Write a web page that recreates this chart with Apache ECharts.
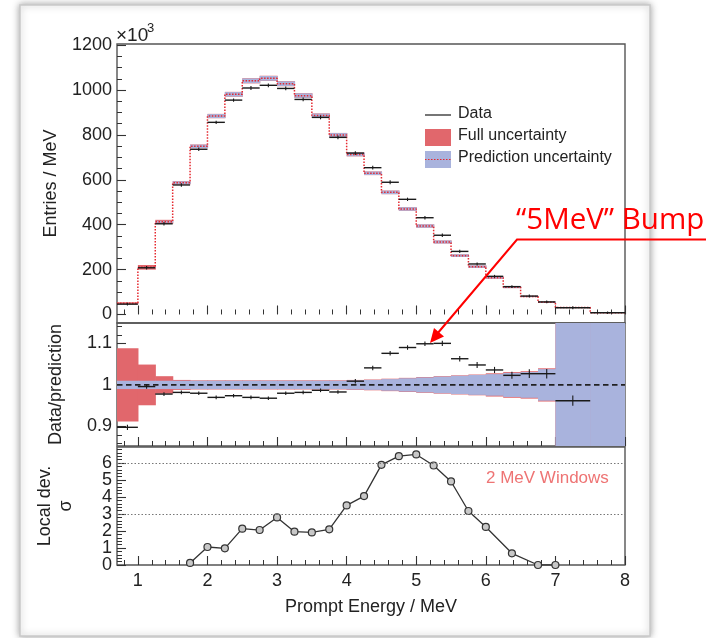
<!DOCTYPE html>
<html>
<head>
<meta charset="utf-8">
<script src="https://cdn.jsdelivr.net/npm/echarts@6/dist/echarts.min.js"></script>
<style>
  html, body { margin: 0; padding: 0; background: #ffffff; }
  #chart { width: 712px; height: 638px; }
</style>
</head>
<body>
<div id="chart"></div>
<script>
// ---- Binning (MeV) ----
const binEdges = [0.7, 1.0, 1.25, 1.5, 1.75, 2.0, 2.25, 2.5, 2.75, 3.0, 3.25, 3.5, 3.75,
  4.0, 4.25, 4.5, 4.75, 5.0, 5.25, 5.5, 5.75, 6.0, 6.25, 6.5, 6.75, 7.0, 7.5, 8.0];

// ---- Spectrum (x10^3 entries / MeV) ----
const prediction = [50, 210, 413, 587, 749, 884, 981, 1041, 1052, 1028, 975, 886, 800,
  713, 629, 544, 470, 394, 323, 262, 213, 164, 121, 80, 54, 31, 8];
const dataEntries = [46, 208, 404, 577, 736, 856, 955, 1009, 1021, 1007, 958, 878, 789,
  719, 654, 589, 513, 431, 353, 281, 225, 170, 124, 82, 56, 30, 8];
const entriesErr = [2, 3, 3, 3, 3, 3, 3, 4, 4, 4, 4, 4, 4, 4, 4, 4, 3, 3, 3, 3, 2, 2, 2, 2, 2, 2, 1];

// ---- Relative uncertainties per bin ----
const fullUnc = [0.088, 0.049, 0.021, 0.012, 0.011, 0.011, 0.011, 0.011, 0.011, 0.011, 0.011, 0.011, 0.011,
  0.012, 0.013, 0.015, 0.017, 0.019, 0.021, 0.023, 0.025, 0.028, 0.031, 0.033, 0.040, 0.044, 0.051];
const predUnc = [0.010, 0.010, 0.010, 0.010, 0.010, 0.010, 0.010, 0.010, 0.010, 0.010, 0.010, 0.010, 0.010,
  0.011, 0.012, 0.014, 0.016, 0.018, 0.020, 0.022, 0.024, 0.026, 0.029, 0.031, 0.038, 0.042, 0.050];
// prediction uncertainty unconstrained from this energy upward (ratio panel)
const openBandFrom = 7.0;

// ---- Data / prediction ----
const ratio = [0.898, 0.996, 0.978, 0.982, 0.980, 0.970, 0.974, 0.970, 0.968, 0.980, 0.982, 0.987, 0.983,
  1.009, 1.041, 1.076, 1.090, 1.099, 1.100, 1.063, 1.048, 1.036, 1.023, 1.027, 1.027, 0.962, null];
const ratioErr = [0.004, 0.003, 0.002, 0.002, 0.002, 0.002, 0.002, 0.002, 0.002, 0.002, 0.002, 0.002, 0.002,
  0.003, 0.003, 0.003, 0.003, 0.003, 0.004, 0.004, 0.005, 0.005, 0.006, 0.008, 0.009, 0.010, null];
const unityRatio = 1;

// ---- Local deviation in 2 MeV windows (sigma) ----
const windowCenter = [1.75, 2.0, 2.25, 2.5, 2.75, 3.0, 3.25, 3.5, 3.75, 4.0, 4.25, 4.5, 4.75,
  5.0, 5.25, 5.5, 5.75, 6.0, 6.375, 6.75, 7.0];
const localDev = [0.12, 1.06, 0.98, 2.14, 2.06, 2.80, 1.96, 1.92, 2.10, 3.51, 4.06, 5.90, 6.41,
  6.51, 5.86, 4.92, 3.18, 2.24, 0.69, 0, 0];
const sigmaRefLines = [3, 6];

// ---- Tick values ----
const xMajor = [1, 2, 3, 4, 5, 6, 7, 8];
const xMinor = [0.8, 1.2, 1.4, 1.6, 1.8, 2.2, 2.4, 2.6, 2.8, 3.2, 3.4, 3.6, 3.8, 4.2, 4.4, 4.6, 4.8,
  5.2, 5.4, 5.6, 5.8, 6.2, 6.4, 6.6, 6.8, 7.2, 7.4, 7.6, 7.8];
const yTopMajor = [0, 200, 400, 600, 800, 1000, 1200];
const yTopMinor = [50, 100, 150, 250, 300, 350, 450, 500, 550, 650, 700, 750, 850, 900, 950, 1050, 1100, 1150];
const yRatioMajor = [0.9, 1, 1.1];
const yRatioMinor = [0.86, 0.88, 0.92, 0.94, 0.96, 0.98, 1.02, 1.04, 1.06, 1.08, 1.12, 1.14];
const ySigmaMajor = [0, 1, 2, 3, 4, 5, 6];
const ySigmaMinor = [0.2, 0.4, 0.6, 0.8, 1.2, 1.4, 1.6, 1.8, 2.2, 2.4, 2.6, 2.8, 3.2, 3.4, 3.6, 3.8,
  4.2, 4.4, 4.6, 4.8, 5.2, 5.4, 5.6, 5.8, 6.2, 6.4, 6.6, 6.8];
// sigma labels are tightly packed: even and odd values go on two overlaid axes
const ySigmaLabelsEven = ySigmaMajor.filter(v => v % 2 === 0);
const ySigmaLabelsOdd = ySigmaMajor.filter(v => v % 2 === 1);

// ---- Styling ----
const FONT = 'Liberation Sans, Arial, sans-serif';
const TXT = '#222222';
const RED_FILL = '#e1676c';
const BLUE_FILL = '#a9b3dd';
const PRED_LINE = '#e5282f';
const MARK = '#1a1a1a';
const X_MIN = binEdges[0], X_MAX = binEdges[binEdges.length - 1];

const gridBox = { left: 117, width: 508 };
const grids = [
  Object.assign({ top: 44, height: 279 }, gridBox),
  Object.assign({ top: 323, height: 123 }, gridBox),
  Object.assign({ top: 447, height: 118 }, gridBox)
].map(g => Object.assign(g, { show: true, borderColor: '#555555', borderWidth: 1.4, backgroundColor: 'transparent' }));

const labelStyle = {
  color: TXT, fontSize: 18, fontFamily: FONT, margin: 5,
  showMinLabel: true, showMaxLabel: true, hideOverlap: false, formatter: v => String(v)
};

function xAxisFor(gridIndex, opts) {
  return Object.assign({
    type: 'value', gridIndex, min: X_MIN, max: X_MAX, position: 'bottom',
    axisLine: { show: false }, splitLine: { show: false },
    axisTick: { show: true, inside: true, length: 9, customValues: xMajor, lineStyle: { color: '#333', width: 1.1 } },
    axisLabel: { show: false }
  }, opts || {});
}
function xMinorFor(gridIndex) {
  return {
    type: 'value', gridIndex, min: X_MIN, max: X_MAX, position: 'bottom', offset: 0,
    axisLine: { show: false }, splitLine: { show: false }, axisLabel: { show: false },
    axisTick: { show: true, inside: true, length: 5, customValues: xMinor, lineStyle: { color: '#333', width: 1 } }
  };
}
function yAxisFor(gridIndex, min, max, major, labels, name, nameGap) {
  return {
    type: 'value', gridIndex, min, max, position: 'left',
    axisLine: { show: false }, splitLine: { show: false },
    axisTick: { show: true, inside: true, length: 9, customValues: major, lineStyle: { color: '#333', width: 1.1 } },
    axisLabel: Object.assign({ show: true, customValues: labels }, labelStyle),
    name, nameLocation: 'middle', nameGap, nameRotate: 90,
    nameTextStyle: { color: TXT, fontSize: 18, fontFamily: FONT, lineHeight: 21 }
  };
}
function yMinorFor(gridIndex, min, max, minor, labels) {
  return {
    type: 'value', gridIndex, min, max, position: 'left', offset: 0,
    axisLine: { show: false }, splitLine: { show: false },
    axisLabel: labels ? Object.assign({ show: true, customValues: labels }, labelStyle) : { show: false },
    axisTick: { show: true, inside: true, length: 5, customValues: minor, lineStyle: { color: '#333', width: 1 } }
  };
}

// rectangle between (x0,y0) and (x1,y1); NaN y-values span the whole panel height
function bandRenderer(fill) {
  return function (params, api) {
    const cs = params.coordSys;
    const x0 = api.value(0), x1 = api.value(1);
    const y0 = api.value(2), y1 = api.value(3);
    const open = isNaN(y0) || isNaN(y1);
    const a = api.coord([x0, open ? 1 : y1]);
    const b = api.coord([x1, open ? 1 : y0]);
    const top = open ? cs.y : a[1];
    const bottom = open ? cs.y + cs.height : b[1];
    const r = echarts.graphic.clipRectByRect(
      { x: a[0], y: top, width: b[0] - a[0] + 0.6, height: bottom - top },
      { x: cs.x, y: cs.y, width: cs.width, height: cs.height });
    if (!r) return null;
    return { type: 'rect', shape: r, style: { fill } };
  };
}
// horizontal bin-wide marker with vertical error bar
function segmentRenderer(params, api) {
  const x0 = api.value(0), x1 = api.value(1), y = api.value(2), e = api.value(3);
  if (isNaN(y)) return null;
  const a = api.coord([x0, y]), b = api.coord([x1, y]);
  const xc = (a[0] + b[0]) / 2;
  const t = api.coord([(x0 + x1) / 2, y + e]), u = api.coord([(x0 + x1) / 2, y - e]);
  return {
    type: 'group', children: [
      { type: 'line', shape: { x1: a[0], y1: a[1], x2: b[0], y2: b[1] }, style: { stroke: MARK, lineWidth: 1.4 } },
      { type: 'line', shape: { x1: xc, y1: t[1] - 1, x2: xc, y2: u[1] + 1 }, style: { stroke: MARK, lineWidth: 1.1 } }
    ]
  };
}

const nBins = prediction.length;
const idx = Array.from({ length: nBins }, (_, i) => i);

// Top panel bands (absolute)
const topFull = idx.map(i => [binEdges[i], binEdges[i + 1], prediction[i] * (1 - fullUnc[i]), prediction[i] * (1 + fullUnc[i])]);
const topPred = idx.map(i => [binEdges[i], binEdges[i + 1], prediction[i] * (1 - predUnc[i]), prediction[i] * (1 + predUnc[i])]);
const topData = idx.map(i => [binEdges[i], binEdges[i + 1], dataEntries[i], entriesErr[i]]);
const predStep = binEdges.map((x, i) => [x, prediction[Math.min(i, nBins - 1)]]);

// Ratio panel bands (relative to unity)
const ratioFull = idx.map(i => binEdges[i] >= openBandFrom
  ? [binEdges[i], binEdges[i + 1], NaN, NaN]
  : [binEdges[i], binEdges[i + 1], unityRatio - fullUnc[i], unityRatio + fullUnc[i]]);
const ratioPred = idx.map(i => binEdges[i] >= openBandFrom
  ? [binEdges[i], binEdges[i + 1], NaN, NaN]
  : [binEdges[i], binEdges[i + 1], unityRatio - predUnc[i], unityRatio + predUnc[i]]);
const ratioData = idx.filter(i => ratio[i] !== null)
  .map(i => [binEdges[i], binEdges[i + 1], ratio[i], ratioErr[i]]);

const sigmaData = windowCenter.map((x, i) => [x, localDev[i]]);

const chart = echarts.init(document.getElementById('chart'), null, { renderer: 'canvas' });

const option = {
  animation: false,
  backgroundColor: '#ffffff',
  grid: grids,
  xAxis: [
    xAxisFor(0), xAxisFor(1),
    xAxisFor(2, {
      axisLabel: { show: true, customValues: xMajor, color: TXT, fontSize: 18, fontFamily: FONT, margin: 7 },
      name: 'Prompt Energy / MeV', nameLocation: 'middle', nameGap: 33,
      nameTextStyle: { color: TXT, fontSize: 18, fontFamily: FONT }
    }),
    xMinorFor(0), xMinorFor(1), xMinorFor(2)
  ],
  yAxis: [
    yAxisFor(0, -38, 1205, yTopMajor, yTopMajor, 'Entries / MeV', 50),
    yAxisFor(1, 0.853, 1.149, yRatioMajor, yRatioMajor, 'Data/prediction', 50),
    yAxisFor(2, 0, 6.95, ySigmaMajor, ySigmaLabelsEven, 'Local dev.\nσ', 40),
    yMinorFor(0, -38, 1205, yTopMinor),
    yMinorFor(1, 0.853, 1.149, yRatioMinor),
    yMinorFor(2, 0, 6.95, ySigmaMinor, ySigmaLabelsOdd)
  ],
  series: [
    // --- spectrum panel ---
    { type: 'custom', name: 'Full uncertainty', xAxisIndex: 0, yAxisIndex: 0, z: 1,
      renderItem: bandRenderer(RED_FILL), data: topFull, encode: { x: [0, 1], y: [2, 3] } },
    { type: 'custom', name: 'Prediction uncertainty', xAxisIndex: 0, yAxisIndex: 0, z: 2,
      renderItem: bandRenderer(BLUE_FILL), data: topPred, encode: { x: [0, 1], y: [2, 3] } },
    { type: 'line', name: 'Prediction', xAxisIndex: 0, yAxisIndex: 0, z: 3, step: 'end',
      symbol: 'none', data: predStep,
      lineStyle: { color: PRED_LINE, width: 1.5, type: [1.5, 1.5] } },
    { type: 'custom', name: 'Data', xAxisIndex: 0, yAxisIndex: 0, z: 4,
      renderItem: segmentRenderer, data: topData, encode: { x: [0, 1], y: 2 } },

    // --- ratio panel ---
    { type: 'custom', xAxisIndex: 1, yAxisIndex: 1, z: 1,
      renderItem: bandRenderer(RED_FILL), data: ratioFull, encode: { x: [0, 1], y: [2, 3] } },
    { type: 'custom', xAxisIndex: 1, yAxisIndex: 1, z: 2,
      renderItem: bandRenderer(BLUE_FILL), data: ratioPred, encode: { x: [0, 1], y: [2, 3] } },
    { type: 'line', xAxisIndex: 1, yAxisIndex: 1, z: 3, symbol: 'none',
      data: [[X_MIN, unityRatio], [X_MAX, unityRatio]],
      lineStyle: { color: '#222', width: 1.8, type: [5.5, 3.5] } },
    { type: 'custom', xAxisIndex: 1, yAxisIndex: 1, z: 4,
      renderItem: segmentRenderer, data: ratioData, encode: { x: [0, 1], y: 2 } },

    // --- local deviation panel ---
    { type: 'line', xAxisIndex: 2, yAxisIndex: 2, z: 4, data: sigmaData,
      symbol: 'circle', symbolSize: 7,
      itemStyle: { color: '#c8c8c8', borderColor: '#333', borderWidth: 1.2 },
      lineStyle: { color: '#333', width: 1.3 },
      markLine: {
        silent: true, symbol: 'none', label: { show: false },
        lineStyle: { color: '#777', width: 1, type: [1.5, 2] },
        data: sigmaRefLines.map(v => ({ yAxis: v }))
      } }
  ],
  graphic: [
    // slide frame
    { type: 'rect', z: -10, silent: true, shape: { x: 20, y: 5, width: 630, height: 631 },
      style: { fill: '#ffffff', stroke: '#c9c9c9', lineWidth: 1.5, shadowBlur: 7, shadowColor: 'rgba(0,0,0,0.35)', shadowOffsetX: 0, shadowOffsetY: 0 } },
    // exponent
    { type: 'text', z: 50, left: 116, top: 26, style: { text: '×10', fontSize: 19, fontFamily: FONT, fill: TXT } },
    { type: 'text', z: 50, left: 147, top: 22, style: { text: '3', fontSize: 13, fontFamily: FONT, fill: TXT } },
    // legend
    { type: 'line', z: 50, shape: { x1: 425, y1: 115, x2: 451, y2: 115 }, style: { stroke: MARK, lineWidth: 1.2 } },
    { type: 'text', z: 50, left: 458, top: 106, style: { text: 'Data', fontSize: 16, fontFamily: FONT, fill: TXT } },
    { type: 'rect', z: 50, shape: { x: 425, y: 129, width: 26, height: 17 }, style: { fill: RED_FILL } },
    { type: 'text', z: 50, left: 458, top: 128, style: { text: 'Full uncertainty', fontSize: 16, fontFamily: FONT, fill: TXT } },
    { type: 'rect', z: 50, shape: { x: 425, y: 151, width: 26, height: 17 }, style: { fill: BLUE_FILL } },
    { type: 'line', z: 51, shape: { x1: 425, y1: 159.5, x2: 451, y2: 159.5 }, style: { stroke: PRED_LINE, lineWidth: 1.2, lineDash: [1.5, 1.5] } },
    { type: 'text', z: 50, left: 458, top: 150, style: { text: 'Prediction uncertainty', fontSize: 16, fontFamily: FONT, fill: TXT } },
    // local-deviation window note
    { type: 'text', z: 50, left: 486, top: 470, style: { text: '2 MeV Windows', fontSize: 17, fontFamily: FONT, fill: '#ee7474' } },
    // bump annotation
    { type: 'text', z: 60, left: 516, top: 206, style: { text: '“5MeV” Bump', fontSize: 29.5, fontFamily: 'Open Sans, Liberation Sans, sans-serif', fill: '#ff0000' } },
    { type: 'polyline', z: 60, shape: { points: [[706, 239.5], [517, 239.5], [437, 334]] }, style: { stroke: '#ff0000', lineWidth: 2, fill: null } },
    { type: 'polygon', z: 60, shape: { points: [[430, 343], [434, 328], [444, 336.5]] }, style: { fill: '#ff0000' } }
  ]
};

chart.setOption(option);
</script>
</body>
</html>
